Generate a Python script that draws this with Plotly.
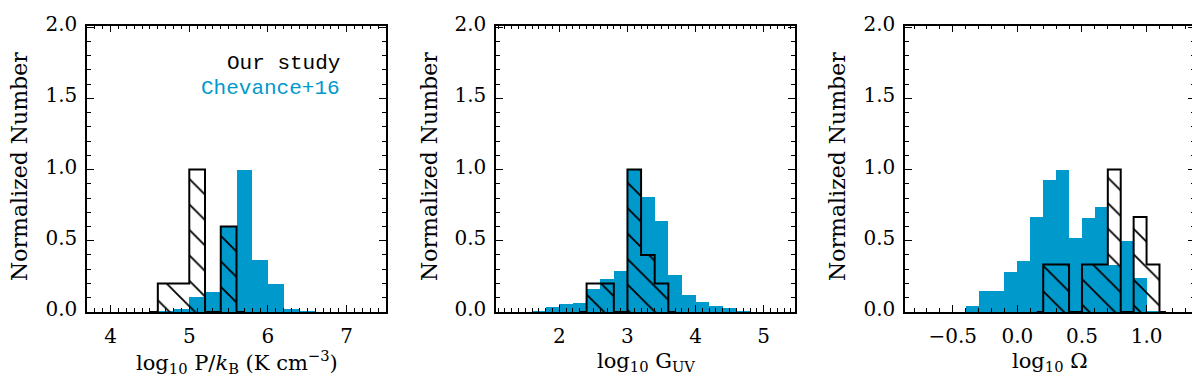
import plotly.graph_objects as go

BLUE = "#0099CC"

# panel 1: log10 P/kB, bin width 0.2
p_start, p_width = 4.6, 0.2
ours_p = [0.2, 0.2, 1.0, 0.0, 0.6]
chev_p = [0.007, 0.02, 0.106, 0.144, 0.6, 1.0, 0.37, 0.2, 0.02, 0.005]

# panel 2: log10 G_UV, bin width 0.2
g_ours_start, g_chev_start, g_width = 2.4, 1.6, 0.2
ours_g = [0.2, 0.2, 0.0, 1.0, 0.4, 0.2]
chev_g = [0.005, 0.04, 0.06, 0.066, 0.16, 0.236, 0.287, 1.0, 0.81, 0.64,
          0.26, 0.12, 0.075, 0.044, 0.031, 0.005]

# panel 3: log10 Omega, bin width 0.1
o_ours_start, o_chev_start, o_width = 0.2, -0.4, 0.1
ours_o = [0.333, 0.333, 0.0, 0.333, 0.333, 1.0, 0.0, 0.667, 0.333]
chev_o = [0.044, 0.148, 0.152, 0.28, 0.358, 0.67, 0.93, 1.0, 0.52, 0.66,
          0.74, 0.333, 0.5, 0.24, 0.004]

x_titles = ["log<sub>10</sub> P/<i>k</i><sub>B</sub> (K cm<sup>\u22123</sup>)",
            "log<sub>10</sub> G<sub>UV</sub>",
            "log<sub>10</sub> \u03a9"]
x_ranges = [[3.7, 7.5], [1.07, 5.46], [-0.87, 1.375]]
x_dticks = [1, 1, 0.5]
x_domains = [[79 / 1200, 378 / 1200], [488 / 1200, 787 / 1200], [897 / 1200, 1187 / 1200]]
y_domain = [67 / 376, 371 / 376]
ytitle_x = [12, 422, 830]

FONT = "DejaVu Serif"


def centers(start, w, n):
    return [start + w * (i + 0.5) for i in range(n)]


def outline(start, w, h):
    n = len(h)
    xs = [start - w / 2] + [start + i * w for i in range(n)] + [start + n * w, start + n * w + w / 2]
    ys = [0] + list(h) + [0, 0]
    return xs, ys


panels = [
    (p_start, p_start, p_width, ours_p, chev_p),
    (g_ours_start, g_chev_start, g_width, ours_g, chev_g),
    (o_ours_start, o_chev_start, o_width, ours_o, chev_o),
]

fig = go.Figure()

for i, (os_, cs_, w, ours, chev) in enumerate(panels):
    xa = "x" if i == 0 else f"x{i + 1}"
    ya = "y" if i == 0 else f"y{i + 1}"
    fig.add_trace(go.Bar(x=centers(cs_, w, len(chev)), y=chev, width=w,
                         marker=dict(color=BLUE, line=dict(width=0)),
                         xaxis=xa, yaxis=ya, showlegend=False))
    fig.add_trace(go.Bar(x=centers(os_, w, len(ours)), y=ours, width=w,
                         marker=dict(color="rgba(0,0,0,0)", line=dict(width=0),
                                     pattern=dict(shape="\\", fgcolor="black",
                                                  bgcolor="rgba(0,0,0,0)",
                                                  fillmode="replace",
                                                  size=18, solidity=0.1)),
                         xaxis=xa, yaxis=ya, showlegend=False))
    ox, oy = outline(os_, w, ours)
    fig.add_trace(go.Scatter(x=ox, y=oy, mode="lines", line=dict(color="black", width=2, shape="hv"),
                             xaxis=xa, yaxis=ya, showlegend=False))

layout = dict(
    width=1200, height=376,
    margin=dict(l=0, r=0, t=0, b=0),
    paper_bgcolor="white", plot_bgcolor="white",
    barmode="overlay", bargap=0,
    font=dict(family=FONT, size=20, color="black"),
)

axis_common = dict(showline=True, linecolor="black", linewidth=1.5, mirror="allticks",
                   ticks="inside", ticklen=7, tickwidth=1.2, tickcolor="black",
                   showgrid=False, zeroline=False, ticklabeloverflow="allow",
                   tickfont=dict(family=FONT, size=20, color="black"))

annotations = []
for i in range(3):
    sfx = "" if i == 0 else str(i + 1)
    layout["xaxis" + sfx] = dict(axis_common, domain=x_domains[i], range=x_ranges[i],
                                 anchor="y" + sfx, dtick=x_dticks[i], tick0=0,
                                 tickformat=".1f" if i == 2 else "d",
                                 ticklabelstandoff=5,
                                 minor=dict(dtick=0.1, ticklen=4, ticks="inside", tickcolor="black"))
    layout["yaxis" + sfx] = dict(axis_common, domain=y_domain, range=[0, 2.01],
                                 anchor="x" + sfx, dtick=0.5, tick0=0, tickformat=".1f",
                                 ticklabelstandoff=4, ticklabelshift=-3,
                                 minor=dict(dtick=0.1, ticklen=4, ticks="inside", tickcolor="black"))
    annotations.append(dict(text=x_titles[i], xref="paper", yref="paper",
                            x=sum(x_domains[i]) / 2, y=1 - 362 / 376,
                            xanchor="center", yanchor="middle", showarrow=False,
                            font=dict(family=FONT, size=21, color="black")))
    annotations.append(dict(text="Normalized Number", xref="paper", yref="paper",
                            x=ytitle_x[i] / 1200, y=1 - 155 / 376, textangle=-90,
                            xanchor="center", yanchor="middle", showarrow=False,
                            font=dict(family=FONT, size=22, color="black")))

annotations.append(dict(text="Our study", xref="x domain", yref="y domain", x=0.85, y=0.824,
                        xanchor="right", yanchor="bottom", showarrow=False, borderpad=0,
                        font=dict(family="Liberation Mono", size=21, color="black")))
annotations.append(dict(text="Chevance+16", xref="x domain", yref="y domain", x=0.85, y=0.824,
                        xanchor="right", yanchor="top", showarrow=False, borderpad=0,
                        font=dict(family="Liberation Mono", size=21, color=BLUE)))
layout["annotations"] = annotations

fig.update_layout(**layout)
fig.write_html("out.html")
